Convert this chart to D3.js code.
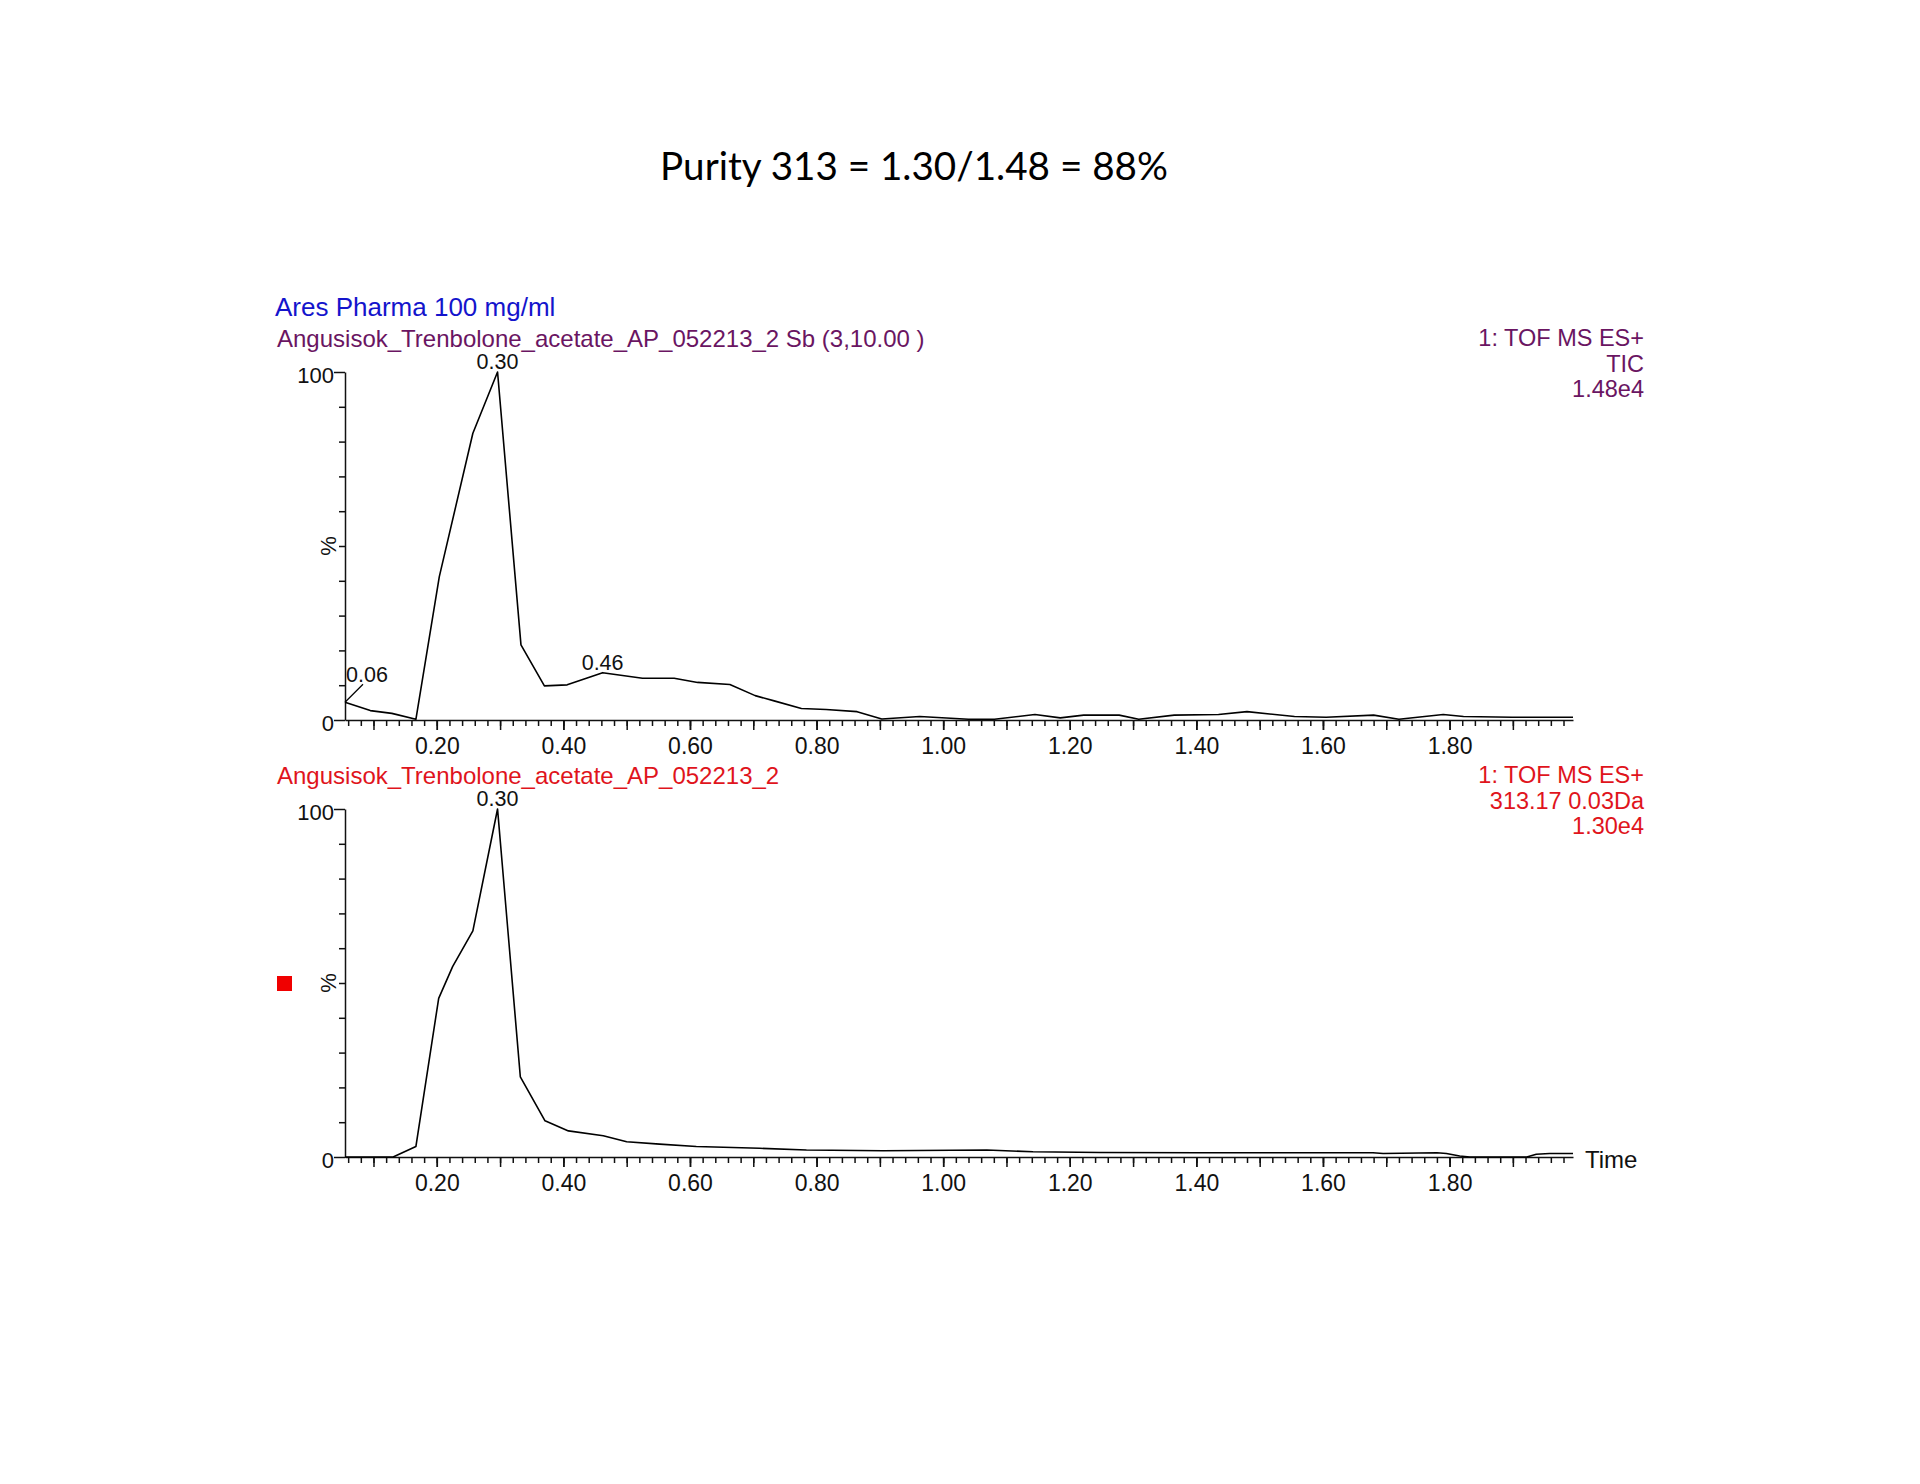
<!DOCTYPE html>
<html>
<head>
<title>Purity 313</title>
<meta charset="utf-8">
<style>
  body { margin: 0; background-color: #fff; }
  svg text { font-family: "Liberation Sans", Arial, sans-serif; }
  svg text.title { font-family: Lato, "Open Sans", sans-serif; }
  .axis path, .axis line { stroke: #111; stroke-width: 1.5; }
  .axis text { fill: #111; font-family: "Liberation Sans", Arial, sans-serif; }
  .trace { fill: none; stroke: #000; stroke-width: 1.6; stroke-linejoin: round; }
</style>
<script src="https://d3js.org/d3.v7.min.js"></script>
</head>
<body>
<svg id="chart" width="1920" height="1484"></svg>
<script>
// TIC trace (minutes, % of 1.48e4)
var ticTime = [0.055, 0.095, 0.129, 0.167, 0.204, 0.257, 0.296, 0.333, 0.370, 0.406,
               0.462, 0.525, 0.575, 0.612, 0.663, 0.703, 0.733, 0.776, 0.815, 0.864,
               0.903, 0.963, 1.040, 1.081, 1.145, 1.185, 1.222, 1.278, 1.309, 1.365,
               1.435, 1.480, 1.555, 1.605, 1.680, 1.720, 1.790, 1.822, 1.899, 1.995];
var ticPct  = [5.1, 2.7, 1.9, 0.2, 41.2, 82.4, 100, 21.6, 9.8, 10.1,
               13.6, 12.0, 12.0, 10.8, 10.2, 7.0, 5.5, 3.3, 3.0, 2.4,
               0.3, 1.0, 0.2, 0.2, 1.6, 0.6, 1.4, 1.4, 0.2, 1.4,
               1.6, 2.4, 1.0, 0.8, 1.4, 0.2, 1.6, 1.0, 0.8, 0.8];

// extracted ion 313.17 trace (minutes, % of 1.30e4)
var xicTime = [0.055, 0.131, 0.167, 0.203, 0.225, 0.257, 0.296, 0.332, 0.371, 0.408,
               0.463, 0.500, 0.552, 0.610, 0.710, 0.784, 0.905, 1.069, 1.142, 1.248,
               1.405, 1.500, 1.679, 1.695, 1.780, 1.795, 1.816, 1.832, 1.922, 1.937,
               1.958, 1.995];
var xicPct  = [0, 0, 3.0, 45.6, 54.7, 65.0, 100, 23.0, 10.4, 7.5,
               6.1, 4.4, 3.7, 3.0, 2.5, 2.0, 1.8, 2.0, 1.5, 1.3,
               1.2, 1.2, 1.2, 1.0, 1.2, 1.0, 0.3, 0, 0, 0.8,
               1.0, 1.0];

var ticPeakTime = [0.055, 0.296, 0.462];
var ticPeakText = ["0.06", "0.30", "0.46"];
var xicPeakTime = [0.296];
var xicPeakText = ["0.30"];

var xLabelTicks = [0.2, 0.4, 0.6, 0.8, 1.0, 1.2, 1.4, 1.6, 1.8];
var yLabelTicks = [0, 100];

var titleText = "Purity 313 = 1.30/1.48 = 88%";
var sampleText = "Ares Pharma 100 mg/ml";
var ticLeft = "Angusisok_Trenbolone_acetate_AP_052213_2 Sb (3,10.00 )";
var ticRight = ["1: TOF MS ES+", "TIC", "1.48e4"];
var xicLeft = "Angusisok_Trenbolone_acetate_AP_052213_2";
var xicRight = ["1: TOF MS ES+", "313.17 0.03Da", "1.30e4"];

var svg = d3.select('#chart');
var x = d3.scaleLinear().domain([0.055, 1.995]).range([345, 1573]);

var minorTicks = d3.range(3, 100).map(function(i) { return +(i * 0.02).toFixed(2); })
                   .filter(function(v) { return v <= 1.995; });
var midTicks = d3.range(1, 20).map(function(i) { return +(i * 0.1).toFixed(1); });

function drawPanel(top, times, pcts, peakT, peakS, color, left, right, showTime) {
  var y = d3.scaleLinear().domain([0, 100]).range([top + 348, top]);
  var g = svg.append('g');

  // x axis: 0.02 minor, 0.1 mid, labels every 0.2
  var base = top + 348;
  g.append('g').attr('class', 'axis').attr('transform', 'translate(0,' + base + ')')
    .call(d3.axisBottom(x).tickValues(minorTicks).tickSize(6).tickSizeOuter(0).tickFormat(''));
  g.append('g').attr('class', 'axis').attr('transform', 'translate(0,' + base + ')')
    .call(d3.axisBottom(x).tickValues(midTicks).tickSize(10).tickSizeOuter(0).tickFormat(''))
    .select('.domain').remove();
  g.append('g').attr('class', 'axis').attr('transform', 'translate(0,' + base + ')')
    .call(d3.axisBottom(x).tickValues(xLabelTicks).tickSize(10).tickPadding(8)
      .tickFormat(d3.format('.2f')))
    .call(function(a) { a.select('.domain').remove(); a.selectAll('text').attr('font-size', 23); });

  // y axis
  g.append('g').attr('class', 'axis').attr('transform', 'translate(345,0)')
    .call(d3.axisLeft(y).tickValues(d3.range(10, 100, 10)).tickSize(6).tickSizeOuter(0).tickFormat(''));
  g.append('g').attr('class', 'axis').attr('transform', 'translate(345,0)')
    .call(d3.axisLeft(y).tickValues(yLabelTicks).tickSize(11).tickPadding(0))
    .call(function(a) {
      a.select('.domain').remove();
      a.selectAll('text').attr('font-size', 22).attr('dy', '0.48em');
    });

  g.append('text').attr('transform', 'translate(336,' + (top + 174) + ') rotate(-90)')
    .attr('text-anchor', 'middle').attr('font-size', 22).attr('fill', '#111').text('%');

  var line = d3.line().x(function(d, i) { return x(times[i]); })
                      .y(function(d) { return y(d); });
  g.append('path').attr('class', 'trace').attr('d', line(pcts));

  // peak labels
  peakT.forEach(function(t, k) {
    var px = x(t), py = y(pcts[times.indexOf(t)]);
    if (k === 0 && peakT.length > 1 && t < 0.1) {
      g.append('line').attr('x1', px).attr('y1', py).attr('x2', px + 18).attr('y2', py - 18)
        .attr('stroke', '#000').attr('stroke-width', 1.3);
      g.append('text').attr('x', px + 1).attr('y', py - 20).attr('font-size', 21.5)
        .attr('fill', '#111').text(peakS[k]);
    } else {
      g.append('text').attr('x', px).attr('y', py - 3).attr('text-anchor', 'middle')
        .attr('font-size', 21.5).attr('fill', '#111').text(peakS[k]);
    }
  });

  g.append('text').attr('x', 277).attr('y', top - 25).attr('font-size', 24)
    .attr('fill', color).text(left);
  g.selectAll('.rlab').data(right).enter().append('text').attr('class', 'rlab')
    .attr('x', 1644).attr('y', function(d, i) { return top - 26 + i * 25.5; })
    .attr('text-anchor', 'end').attr('font-size', 23.5).attr('fill', color)
    .text(function(d) { return d; });

  if (showTime) {
    g.append('text').attr('x', 1585).attr('y', base + 11).attr('font-size', 24)
      .attr('fill', '#111').text('Time');
  }
}

var title = svg.append('text').attr('class', 'title').attr('x', 914).attr('y', 180)
  .attr('text-anchor', 'middle').attr('font-size', 42)
  .attr('fill', '#000').text(titleText);
var tw = title.node().getComputedTextLength();
title.attr('font-size', 42 * 508 / tw);

svg.append('text').attr('x', 275).attr('y', 316).attr('font-size', 26)
  .attr('fill', '#1414cc').text(sampleText);

drawPanel(372, ticTime, ticPct, ticPeakTime, ticPeakText, '#6a1562', ticLeft, ticRight, false);
drawPanel(809, xicTime, xicPct, xicPeakTime, xicPeakText, '#e0141c', xicLeft, xicRight, true);

// red marker beside the lower trace
svg.append('rect').attr('x', 277).attr('y', 976).attr('width', 15).attr('height', 15)
  .attr('fill', '#f00000');
</script>
</body>
</html>
